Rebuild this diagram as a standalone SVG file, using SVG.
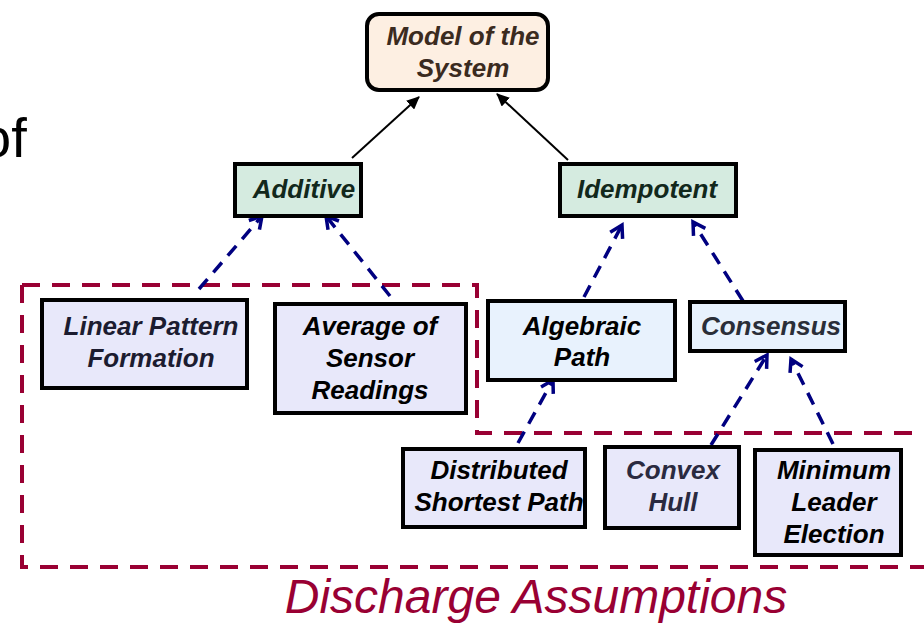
<svg xmlns="http://www.w3.org/2000/svg" width="924" height="626" viewBox="0 0 924 626">
<style>
.box{stroke:#000;stroke-width:4}
.t{font-family:"Liberation Sans",Arial,sans-serif;font-size:26px;font-weight:bold;font-style:italic;text-anchor:middle}
.dash{fill:none;stroke:#000080;stroke-width:3.5;stroke-dasharray:13 9}
.solid{fill:none;stroke:#000;stroke-width:2}
.region{fill:none;stroke:#990033;stroke-width:4;stroke-dasharray:18 12}
</style>
<defs>
<marker id="open" markerUnits="userSpaceOnUse" markerWidth="20" markerHeight="20" refX="14" refY="8" orient="auto" viewBox="0 0 20 16">
<path d="M2,1 L14,8 L2,15" fill="none" stroke="#000080" stroke-width="3.5"/>
</marker>
<marker id="tri" markerUnits="userSpaceOnUse" markerWidth="14" markerHeight="12" refX="12" refY="6" orient="auto" viewBox="0 0 14 12">
<path d="M0,0 L13,6 L0,12 Z" fill="#000"/>
</marker>
</defs>
<rect width="924" height="626" fill="#fff"/>
<text x="-20" y="157" font-family="'Liberation Sans',Arial,sans-serif" font-size="56" fill="#000">of</text>

<g id="region">
<path class="region" d="M22,285 L477,285 L477,433 L924,433"/>
<path class="region" d="M22,285 L22,567 L924,567"/>
</g>

<g id="connectors">
<line class="solid" x1="352" y1="158" x2="419" y2="97" marker-end="url(#tri)"/>
<line class="solid" x1="568" y1="160" x2="497" y2="94" marker-end="url(#tri)"/>
<line class="dash" x1="199" y1="289" x2="262" y2="216" marker-end="url(#open)"/>
<line class="dash" x1="390" y1="296" x2="326" y2="216" marker-end="url(#open)"/>
<line class="dash" x1="584" y1="297" x2="622" y2="225" marker-end="url(#open)"/>
<line class="dash" x1="743" y1="301" x2="693" y2="222" marker-end="url(#open)"/>
<line class="dash" x1="518" y1="443" x2="553" y2="380" marker-end="url(#open)"/>
<line class="dash" x1="711" y1="445" x2="767" y2="355" marker-end="url(#open)"/>
<line class="dash" x1="833" y1="444" x2="791" y2="359" marker-end="url(#open)"/>
</g>

<g id="model">
<rect class="box" x="367" y="14" width="181" height="76" rx="12" fill="#fdefe2"/>
<text class="t" x="463" y="45" fill="#3b2b1f">Model of the</text>
<text class="t" x="463" y="77" fill="#3b2b1f">System</text>
</g>
<g id="additive">
<rect class="box" x="235" y="164" width="126" height="52" fill="#d5ebe0"/>
<text class="t" x="304" y="198" fill="#12281c">Additive</text>
</g>
<g id="idempotent">
<rect class="box" x="560" y="164" width="176" height="52" fill="#d5ebe0"/>
<text class="t" x="647" y="198" fill="#12281c">Idempotent</text>
</g>
<g id="linear">
<rect class="box" x="42" y="300" width="205" height="88" fill="#e8e8fa"/>
<text class="t" x="151" y="335" fill="#1c1c30">Linear Pattern</text>
<text class="t" x="151" y="367" fill="#1c1c30">Formation</text>
</g>
<g id="average">
<rect class="box" x="275" y="304" width="191" height="109" fill="#e8e8fa"/>
<text class="t" x="370" y="335" fill="#000">Average of</text>
<text class="t" x="370" y="367" fill="#000">Sensor</text>
<text class="t" x="370" y="399" fill="#000">Readings</text>
</g>
<g id="algebraic">
<rect class="box" x="488" y="301" width="187" height="79" fill="#e8f2fd"/>
<text class="t" x="582" y="335" fill="#000">Algebraic</text>
<text class="t" x="582" y="366" fill="#000">Path</text>
</g>
<g id="consensus">
<rect class="box" x="690" y="302" width="155" height="49" fill="#e8f2fd"/>
<text class="t" x="771" y="335" fill="#2a2e38">Consensus</text>
</g>
<g id="distributed">
<rect class="box" x="403" y="449" width="182" height="78" fill="#e8e8fa"/>
<text class="t" x="499" y="479" fill="#000">Distributed</text>
<text class="t" x="499" y="511" fill="#000">Shortest Path</text>
</g>
<g id="convex">
<rect class="box" x="605" y="447" width="134" height="81" fill="#e8e8fa"/>
<text class="t" x="673" y="479" fill="#2a2a40">Convex</text>
<text class="t" x="673" y="511" fill="#2a2a40">Hull</text>
</g>
<g id="minimum">
<rect class="box" x="755" y="450" width="146" height="105" fill="#e8e8fa"/>
<text class="t" x="834" y="479" fill="#000">Minimum</text>
<text class="t" x="834" y="511" fill="#000">Leader</text>
<text class="t" x="834" y="543" fill="#000">Election</text>
</g>
<text x="536" y="613" text-anchor="middle" font-family="'Liberation Sans',Arial,sans-serif" font-size="48" font-style="italic" fill="#990033">Discharge Assumptions</text>
</svg>
